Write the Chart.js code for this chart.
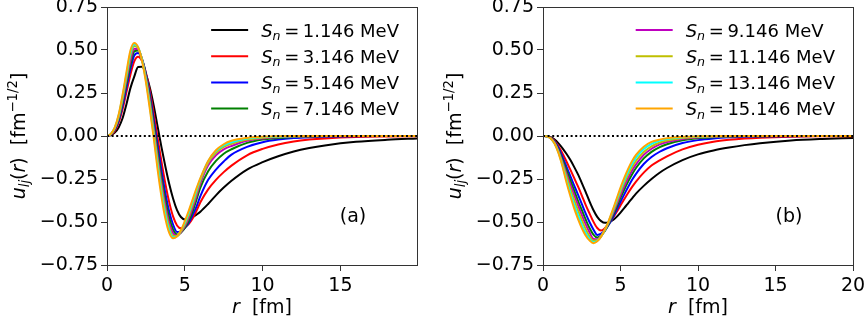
<!DOCTYPE html>
<html><head><meta charset="utf-8">
<script src="https://cdn.jsdelivr.net/npm/chart.js@4"></script>
<style>
html,body{margin:0;padding:0;background:#fff;}
#wrap{position:relative;width:865px;height:317px;overflow:hidden;background:#fff;}
canvas{position:absolute;top:0;}
</style></head><body>
<div id="wrap">
<canvas id="ca" width="433" height="317" style="left:0px"></canvas>
<canvas id="cb" width="432" height="317" style="left:433px"></canvas>
</div>
<script>
// radial grid r [fm]
const R = [0,0.25,0.5,0.75,1,1.25,1.5,1.75,2,2.25,2.5,2.75,3,3.25,3.5,3.75,4,4.25,4.5,4.75,5,5.25,5.5,5.75,6,6.5,7,7.5,8,9,10,11,12,13,14,16,18,20];

// separation energies (MeV)
const SN = ['1.146','3.146','5.146','7.146','9.146','11.146','13.146','15.146'];

// Panel (a) wave functions
const UA_1  = [0,0.005,0.02,0.05,0.103,0.185,0.277,0.345,0.401,0.402,0.358,0.282,0.178,0.056,-0.065,-0.177,-0.279,-0.365,-0.431,-0.471,-0.485,-0.483,-0.472,-0.457,-0.44,-0.395,-0.345,-0.30,-0.26,-0.195,-0.152,-0.118,-0.09,-0.07,-0.055,-0.034,-0.022,-0.014];
const UA_3  = [0,0.007,0.03,0.078,0.155,0.255,0.355,0.434,0.461,0.436,0.368,0.263,0.132,-0.011,-0.149,-0.277,-0.386,-0.469,-0.52,-0.537,-0.530,-0.512,-0.48,-0.435,-0.385,-0.31,-0.255,-0.21,-0.172,-0.112,-0.075,-0.049,-0.032,-0.021,-0.014,-0.006,-0.003,-0.001];
const UA_5  = [0,0.009,0.036,0.089,0.174,0.281,0.388,0.468,0.483,0.445,0.362,0.243,0.098,-0.054,-0.2,-0.332,-0.44,-0.516,-0.558,-0.556,-0.535,-0.505,-0.46,-0.41,-0.35,-0.255,-0.195,-0.148,-0.108,-0.063,-0.036,-0.021,-0.012,-0.007,-0.004,-0.0013,-0.0004,-0.0001];
const UA_7  = [0,0.01,0.04,0.099,0.192,0.305,0.413,0.492,0.497,0.447,0.354,0.224,0.07,-0.088,-0.239,-0.372,-0.476,-0.545,-0.572,-0.562,-0.535,-0.495,-0.44,-0.37,-0.30,-0.205,-0.145,-0.103,-0.077,-0.040,-0.021,-0.011,-0.0055,-0.003,-0.0015,-0.0004,-0.0001,0];
const UA_9  = [0,0.0103,0.043,0.107,0.207,0.326,0.437,0.507,0.503,0.446,0.343,0.205,0.046,-0.118,-0.273,-0.405,-0.506,-0.565,-0.579,-0.56,-0.525,-0.478,-0.418,-0.348,-0.275,-0.17,-0.112,-0.078,-0.058,-0.028,-0.014,-0.007,-0.0033,-0.0016,-0.0008,-0.0002,0,0];
const UA_11 = [0,0.011,0.0455,0.114,0.219,0.342,0.463,0.523,0.51,0.444,0.334,0.19,0.027,-0.143,-0.301,-0.434,-0.529,-0.582,-0.583,-0.555,-0.515,-0.462,-0.40,-0.33,-0.26,-0.155,-0.097,-0.063,-0.045,-0.021,-0.0095,-0.0043,-0.002,-0.0009,-0.0004,0,0,0];
const UA_13 = [0,0.0115,0.048,0.12,0.23,0.357,0.48,0.534,0.515,0.442,0.326,0.175,0.007,-0.168,-0.328,-0.458,-0.548,-0.589,-0.583,-0.55,-0.505,-0.447,-0.383,-0.315,-0.25,-0.147,-0.088,-0.055,-0.036,-0.015,-0.0063,-0.0026,-0.0011,-0.0005,-0.0002,0,0,0];
const UA_15 = [0,0.012,0.05,0.125,0.24,0.371,0.495,0.541,0.516,0.438,0.314,0.158,-0.01,-0.192,-0.352,-0.48,-0.563,-0.595,-0.583,-0.548,-0.495,-0.435,-0.37,-0.305,-0.245,-0.145,-0.083,-0.048,-0.028,-0.011,-0.004,-0.0015,-0.0006,-0.0002,0,0,0,0];

// Panel (b) wave functions
const UB_1  = [0,-0.001,-0.007,-0.021,-0.043,-0.07,-0.102,-0.137,-0.178,-0.222,-0.272,-0.325,-0.38,-0.43,-0.47,-0.495,-0.505,-0.502,-0.49,-0.47,-0.445,-0.418,-0.39,-0.362,-0.335,-0.29,-0.25,-0.215,-0.186,-0.14,-0.107,-0.084,-0.067,-0.053,-0.042,-0.026,-0.017,-0.011];
const UB_3  = [0,-0.001,-0.009,-0.028,-0.06,-0.1,-0.145,-0.193,-0.242,-0.292,-0.345,-0.40,-0.45,-0.498,-0.535,-0.55,-0.535,-0.51,-0.478,-0.442,-0.404,-0.366,-0.33,-0.296,-0.265,-0.213,-0.172,-0.143,-0.118,-0.078,-0.051,-0.033,-0.022,-0.0145,-0.0095,-0.004,-0.0018,-0.0008];
const UB_5  = [0,-0.0015,-0.011,-0.033,-0.07,-0.12,-0.175,-0.23,-0.285,-0.34,-0.395,-0.45,-0.50,-0.543,-0.575,-0.568,-0.548,-0.515,-0.475,-0.43,-0.383,-0.338,-0.295,-0.255,-0.22,-0.163,-0.122,-0.093,-0.071,-0.041,-0.024,-0.014,-0.008,-0.0047,-0.0027,-0.0009,-0.0003,-0.0001];
const UB_7  = [0,-0.0017,-0.012,-0.037,-0.08,-0.136,-0.195,-0.255,-0.315,-0.375,-0.43,-0.485,-0.535,-0.573,-0.59,-0.578,-0.55,-0.51,-0.463,-0.413,-0.36,-0.31,-0.264,-0.222,-0.186,-0.13,-0.092,-0.066,-0.048,-0.025,-0.013,-0.0068,-0.0035,-0.0018,-0.001,-0.0003,-0.0001,0];
const UB_9  = [0,-0.0018,-0.013,-0.04,-0.087,-0.15,-0.215,-0.278,-0.34,-0.40,-0.458,-0.512,-0.56,-0.598,-0.601,-0.58,-0.547,-0.503,-0.453,-0.398,-0.343,-0.29,-0.243,-0.2,-0.165,-0.11,-0.074,-0.05,-0.035,-0.017,-0.0082,-0.004,-0.0019,-0.0009,-0.0004,-0.0001,0,0];
const UB_11 = [0,-0.0019,-0.014,-0.042,-0.092,-0.16,-0.232,-0.302,-0.368,-0.43,-0.488,-0.54,-0.583,-0.609,-0.606,-0.582,-0.545,-0.497,-0.443,-0.384,-0.325,-0.27,-0.222,-0.18,-0.145,-0.093,-0.06,-0.039,-0.026,-0.011,-0.0048,-0.0021,-0.0009,-0.0004,-0.0002,0,0,0];
const UB_13 = [0,-0.002,-0.0145,-0.044,-0.096,-0.168,-0.252,-0.328,-0.397,-0.458,-0.515,-0.563,-0.598,-0.617,-0.609,-0.584,-0.544,-0.493,-0.435,-0.373,-0.311,-0.255,-0.205,-0.162,-0.126,-0.076,-0.046,-0.028,-0.018,-0.0068,-0.0026,-0.001,-0.0004,-0.0001,0,0,0,0];
const UB_15 = [0,-0.002,-0.015,-0.045,-0.1,-0.175,-0.265,-0.345,-0.418,-0.48,-0.535,-0.578,-0.607,-0.623,-0.612,-0.585,-0.543,-0.49,-0.43,-0.365,-0.30,-0.242,-0.19,-0.145,-0.11,-0.062,-0.034,-0.021,-0.013,-0.005,-0.002,-0.001,0,0,0,0,0,0];

// tick values
const XTICKS_A = [0,5,10,15];
const XTICKS_B = [0,5,10,15,20];
const YTICKS = [-0.75,-0.5,-0.25,0,0.25,0.5,0.75];

const COLORS = ['#000000','#ff0000','#0000ff','#008000','#bf00bf','#bfbf00','#00ffff','#ffa500'];
const FONT = '"DejaVu Sans", sans-serif';

function setFont(ctx, size, italic) {
  ctx.font = (italic ? 'italic ' : '') + size + 'px ' + FONT;
}
function richWidth(ctx, parts, base) {
  let w = 0;
  for (const p of parts) {
    if (p.gap) { w += p.gap * base; continue; }
    setFont(ctx, base * (p.s || 1), p.i);
    w += ctx.measureText(p.t).width;
  }
  return w;
}
function drawRich(ctx, parts, x, y, base) {
  let cx = x;
  for (const p of parts) {
    if (p.gap) { cx += p.gap * base; continue; }
    setFont(ctx, base * (p.s || 1), p.i);
    ctx.fillText(p.t, cx, y + (p.dy || 0) * base);
    cx += ctx.measureText(p.t).width;
  }
  return cx - x;
}

const decoPlugin = {
  id: 'deco',
  afterDraw(chart) {
    const o = chart.options.plugins.deco;
    const ctx = chart.ctx, ca = chart.chartArea;
    ctx.save();
    // frame
    ctx.strokeStyle = '#333'; ctx.lineWidth = 1;
    ctx.strokeRect(Math.round(ca.left) + 0.5, Math.round(ca.top) + 0.5,
                   Math.round(ca.right) - Math.round(ca.left), Math.round(ca.bottom) - Math.round(ca.top));
    ctx.fillStyle = '#000';
    ctx.textBaseline = 'alphabetic'; ctx.textAlign = 'left';
    // x title
    const xt = [{t:'r', i:1}, {t:'  [fm]'}];
    const xw = richWidth(ctx, xt, 19);
    drawRich(ctx, xt, (ca.left + ca.right) / 2 - xw / 2, 313, 19);
    // y title
    const yt = [{t:'u', i:1}, {t:'lj', i:1, s:0.7, dy:0.22}, {t:'('}, {t:'r', i:1}, {t:')'},
                {t:'  [fm'}, {t:'\u22121/2', s:0.7, dy:-0.42}, {t:']'}];
    const yw = richWidth(ctx, yt, 19);
    ctx.save();
    ctx.translate(ca.left - 82, (ca.top + ca.bottom) / 2);
    ctx.rotate(-Math.PI / 2);
    drawRich(ctx, yt, -yw / 2, 0, 19);
    ctx.restore();
    // legend
    const rows = o.legend.map(i => [{t:'S', i:1}, {t:'n', i:1, s:0.7, dy:0.2}, {gap:0.2}, {t:'='}, {gap:0.2}, {t:SN[i] + ' MeV'}]);
    const LF = 18;
    const wmax = Math.max(...rows.map(r => richWidth(ctx, r, LF)));
    const tx = ca.right - 18 - wmax;
    o.legend.forEach((idx, k) => {
      const yc = ca.top + 23 + k * 26.2;
      ctx.strokeStyle = COLORS[idx]; ctx.lineWidth = 2; ctx.setLineDash([]);
      ctx.beginPath(); ctx.moveTo(tx - 50, yc); ctx.lineTo(tx - 13, yc); ctx.stroke();
      ctx.fillStyle = '#000';
      drawRich(ctx, rows[k], tx, yc + 6.5, LF);
    });
    // panel label
    setFont(ctx, 19, false);
    ctx.textAlign = 'center'; ctx.textBaseline = 'middle';
    ctx.fillText(o.label, ca.left + 246, 217);
    ctx.restore();
  }
};

function build(id, series, xMax, xTicks, legendIdx, label, axisLeft, padRight) {
  const datasets = series.map((vals, i) => ({
    label: SN[i],
    data: R.map((r, j) => ({x: r, y: vals[j]})),
    borderColor: COLORS[i], backgroundColor: COLORS[i],
    borderWidth: 2, pointRadius: 0, fill: false,
    cubicInterpolationMode: 'monotone', order: 8 - i
  }));
  datasets.push({
    label: 'zero', data: R.map(r => ({x: r, y: 0})),
    borderColor: '#000', borderWidth: 2, borderDash: [2, 2.6],
    pointRadius: 0, fill: false, order: -1
  });
  return new Chart(document.getElementById(id), {
    type: 'line',
    data: { datasets },
    plugins: [decoPlugin],
    options: {
      responsive: false, animation: false, devicePixelRatio: 1,
      layout: { padding: { left: 0, right: padRight, top: 7, bottom: 0 } },
      plugins: {
        legend: { display: false }, tooltip: { enabled: false },
        deco: { legend: legendIdx, label: label }
      },
      scales: {
        x: {
          type: 'linear', min: 0, max: xMax,
          afterBuildTicks: s => { s.ticks = xTicks.map(v => ({value: v})); },
          afterFit: s => { s.height = 52; s.paddingLeft = 0; s.paddingRight = 0; },
          grid: { drawOnChartArea: false, drawTicks: true, tickLength: 6, tickColor: '#333', tickWidth: 1 },
          border: { display: false },
          ticks: { font: { family: FONT, size: 19 }, color: '#000', padding: 4, maxRotation: 0, autoSkip: false,
                   callback: v => String(v) }
        },
        y: {
          type: 'linear', min: -0.75, max: 0.75,
          afterBuildTicks: s => { s.ticks = YTICKS.map(v => ({value: v})); },
          afterFit: s => { s.width = axisLeft; s.paddingTop = 0; s.paddingBottom = 0; },
          grid: { drawOnChartArea: false, drawTicks: true, tickLength: 6, tickColor: '#333', tickWidth: 1 },
          border: { display: false },
          ticks: { font: { family: FONT, size: 19 }, color: '#000', padding: 3,
                   callback: v => v.toFixed(2).replace('-', '\u2212') }
        }
      }
    }
  });
}

build('ca', [UA_1, UA_3, UA_5, UA_7, UA_9, UA_11, UA_13, UA_15], 19.92, XTICKS_A, [0,1,2,3], '(a)', 107, 16);
build('cb', [UB_1, UB_3, UB_5, UB_7, UB_9, UB_11, UB_13, UB_15], 20, XTICKS_B, [4,5,6,7], '(b)', 110, 12);
</script>
</body></html>
